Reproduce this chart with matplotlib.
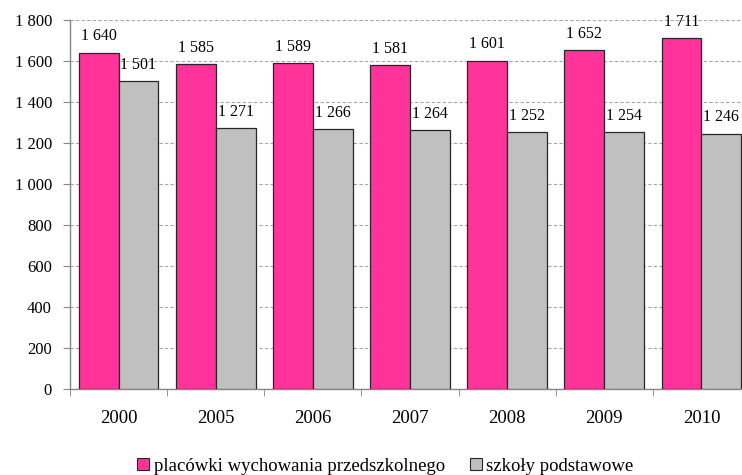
import matplotlib
matplotlib.use("Agg")
import matplotlib.pyplot as plt
from matplotlib.lines import Line2D
import numpy as np

years = ["2000", "2005", "2006", "2007", "2008", "2009", "2010"]
przedszkolne = [1640, 1585, 1589, 1581, 1601, 1652, 1711]
podstawowe = [1501, 1271, 1266, 1264, 1252, 1254, 1246]
series_names = ["placówki wychowania przedszkolnego", "szkoły podstawowe"]
yticks = [0, 200, 400, 600, 800, 1000, 1200, 1400, 1600, 1800]

def fmt(v):
    return f"{v:,}".replace(",", " ")

plt.rcParams['font.family'] = ['Liberation Serif', 'DejaVu Serif']

PINK = "#FF3399"
GRAY = "#C0C0C0"
EDGE = "#262626"
SPINE = "#868686"

fig = plt.figure(figsize=(7.42, 4.75), dpi=100)
ax = fig.add_axes([70/742, 86/475, 680/742, 369/475])

x = np.arange(len(years))
w = 0.41
b1 = ax.bar(x - w/2, przedszkolne, width=w, color=PINK, edgecolor=EDGE, linewidth=0.9, zorder=3)
b2 = ax.bar(x + w/2, podstawowe, width=w, color=GRAY, edgecolor=EDGE, linewidth=0.9, zorder=3)

for bars, vals in ((b1, przedszkolne), (b2, podstawowe)):
    for r, v in zip(bars, vals):
        ax.annotate(fmt(v), (r.get_x() + r.get_width()/2, v), xytext=(0, 6),
                    textcoords="offset points", ha="center", va="bottom",
                    fontsize=11.5, color="black")

ax.set_xlim(-0.5, len(years) - 0.5)
ax.set_ylim(0, 1800)
ax.set_yticks(yticks)
ax.set_yticklabels([fmt(v) for v in yticks], fontsize=12)
ax.set_xticks(x)
ax.set_xticklabels(years, fontsize=13.5)
ax.set_xticks(np.arange(-0.5, len(years)), minor=True)
ax.tick_params(axis="x", which="major", length=0, pad=15)
ax.tick_params(axis="x", which="minor", length=5, color=SPINE, direction="out")
ax.tick_params(axis="y", length=5, color=SPINE, pad=8)

ax.grid(axis="y", linestyle=(0, (3, 2)), color="#A6A6A6", linewidth=0.8, zorder=0)
for s in ("top", "right"):
    ax.spines[s].set_visible(False)
for s in ("left", "bottom"):
    ax.spines[s].set_color(SPINE)
    ax.spines[s].set_linewidth(1.0)

handles = [Line2D([], [], marker="s", linestyle="none", markersize=8,
                  markerfacecolor=c, markeredgecolor=EDGE, markeredgewidth=0.8)
           for c in (PINK, GRAY)]
fig.legend(handles, series_names, loc="center", bbox_to_anchor=(385/742, (475-466)/475),
           ncol=2, frameon=False, fontsize=13.5, handlelength=0.7, handletextpad=0.2,
           columnspacing=1.3)

fig.savefig("out.png", dpi=100)
